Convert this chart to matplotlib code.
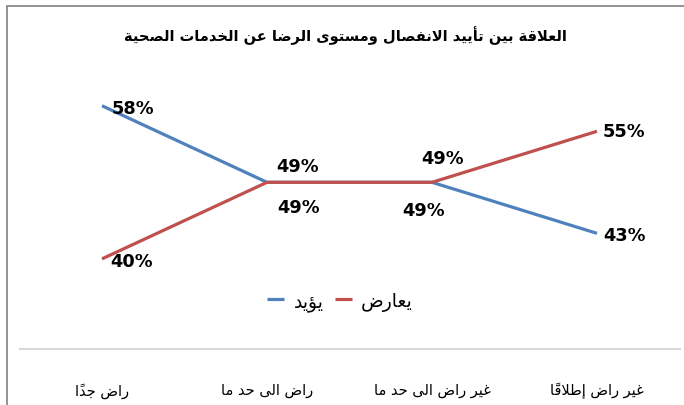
import matplotlib
matplotlib.use('Agg')
import matplotlib.pyplot as plt
from matplotlib.patches import Rectangle

# data
categories = ['راض جداً', 'راض الى حد ما', 'غير راض الى حد ما', 'غير راض إطلاقاً']
support = [58, 49, 49, 43]
oppose = [40, 49, 49, 55]
series_names = ['يؤيد', 'يعارض']
title = 'العلاقة بين تأييد الانفصال ومستوى الرضا عن الخدمات الصحية'

BLUE = '#4F81BD'
RED = '#C0504D'


# --- minimal arabic shaping (matplotlib draws glyphs one by one, left to right) ---
DUAL = {'ئ': 0xFE89, 'ب': 0xFE8F, 'ت': 0xFE95, 'ث': 0xFE99, 'ج': 0xFE9D, 'ح': 0xFEA1,
        'خ': 0xFEA5, 'س': 0xFEB1, 'ش': 0xFEB5, 'ص': 0xFEB9, 'ض': 0xFEBD, 'ط': 0xFEC1,
        'ظ': 0xFEC5, 'ع': 0xFEC9, 'غ': 0xFECD, 'ف': 0xFED1, 'ق': 0xFED5, 'ك': 0xFED9,
        'ل': 0xFEDD, 'م': 0xFEE1, 'ن': 0xFEE5, 'ه': 0xFEE9, 'ي': 0xFEF1}
RIGHT = {'آ': 0xFE81, 'أ': 0xFE83, 'ؤ': 0xFE85, 'إ': 0xFE87, 'ا': 0xFE8D, 'ة': 0xFE93,
         'د': 0xFEA9, 'ذ': 0xFEAB, 'ر': 0xFEAD, 'ز': 0xFEAF, 'و': 0xFEED, 'ى': 0xFEEF}
LAM_ALEF = {'آ': 0xFEF5, 'أ': 0xFEF7, 'إ': 0xFEF9, 'ا': 0xFEFB}
MARKS = set(chr(c) for c in range(0x064B, 0x0653))


def shape(text):
    # group letters with their diacritics, merge lam-alef
    tokens = []
    for ch in text:
        if ch in MARKS and tokens:
            tokens[-1][1] += ch
        elif ch in LAM_ALEF and tokens and tokens[-1][0] == 'ل' and not tokens[-1][1]:
            tokens[-1][0] = 'ل' + ch
        else:
            tokens.append([ch, ''])

    def kind(t):
        if t is None:
            return None
        c = t[0]
        if c in DUAL:
            return 'D'
        if c in RIGHT or len(c) == 2:
            return 'R'
        return None

    out = []
    for i, tok in enumerate(tokens):
        prev = tokens[i - 1] if i > 0 else None
        nxt = tokens[i + 1] if i + 1 < len(tokens) else None
        k = kind(tok)
        jp = k is not None and kind(prev) == 'D'
        jn = k == 'D' and kind(nxt) is not None
        c = tok[0]
        if len(c) == 2:
            g = chr(LAM_ALEF[c[1]] + (1 if jp else 0))
        elif k == 'D':
            g = chr(DUAL[c] + (3 if jp and jn else 1 if jp else 2 if jn else 0))
        elif k == 'R':
            g = chr(RIGHT[c] + (1 if jp else 0))
        else:
            g = c
        out.append(g + tok[1])
    return ''.join(reversed(out))


fig = plt.figure(figsize=(6.84, 4.06), dpi=100)
ax = fig.add_axes([19.5 / 684, 56 / 406, 660 / 684, 290 / 406])

x = list(range(len(categories)))
ax.plot(x, support, color=BLUE, lw=2.3, label=shape(series_names[0]), solid_capstyle='butt')
ax.plot(x, oppose, color=RED, lw=2.3, label=shape(series_names[1]), solid_capstyle='butt')

# value labels, nudged by hand so they do not overlap
blue_off = [(10, -2), (10, -25), (-30, -28), (6, -2)]
red_off = [(8, -2), (9, 16), (-11, 24), (6, 0)]
for vals, offs in [(support, blue_off), (oppose, red_off)]:
    for xi, v, (dx, dy) in zip(x, vals, offs):
        ax.annotate(f'{v}%', (xi, v), xytext=(dx, dy), textcoords='offset pixels',
                    ha='left', va='center', fontsize=12.8, fontweight='bold',
                    family='DejaVu Sans', color='black')

ax.set_xlim(-0.5, 3.5)
ax.set_ylim(29.4, 63.5)
ax.set_yticks([])
ax.set_xticks(x)
ax.set_xticklabels([shape(c) for c in categories], fontsize=10.5, family='DejaVu Sans')
ax.tick_params(axis='x', length=0, pad=24)
for s in ['top', 'left', 'right']:
    ax.spines[s].set_visible(False)
ax.spines['bottom'].set_color('#D9D9D9')
ax.spines['bottom'].set_linewidth(1.5)

fig.text(0.505, 1 - 36 / 406, shape(title), ha='center', va='center',
         fontsize=10.5, fontweight='bold', family='DejaVu Sans')

fig.legend(loc='center', bbox_to_anchor=(0.497, 1 - 302 / 406), ncol=2, frameon=False,
           prop={'family': 'DejaVu Sans', 'size': 13.5}, handlelength=0.9,
           columnspacing=0.6, handletextpad=0.5)

# outer frame of the chart
fig.patches.append(Rectangle((7 / 684, -0.5), 2, 1.5 - 7 / 406, transform=fig.transFigure,
                             fill=False, edgecolor='#808080', lw=1.2))

fig.savefig('out.png', dpi=100)
